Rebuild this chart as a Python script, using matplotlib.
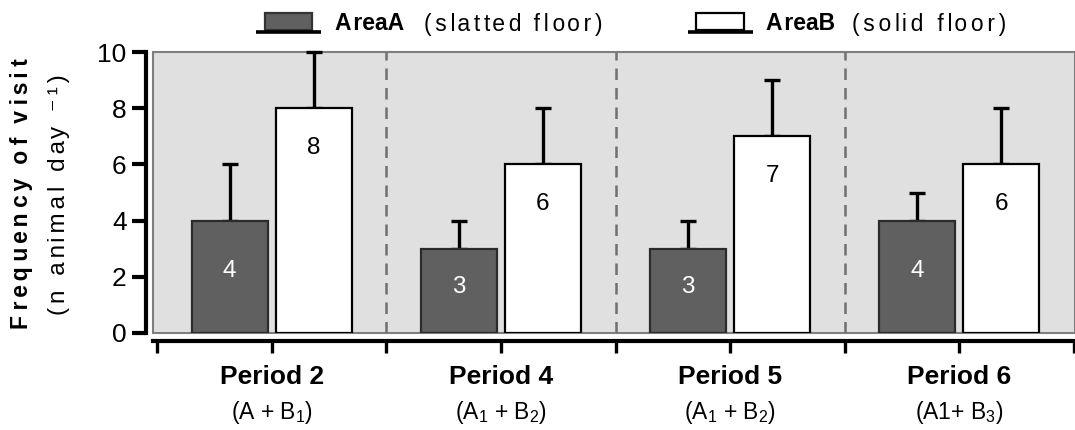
import matplotlib
matplotlib.use("Agg")
import matplotlib.pyplot as plt
from matplotlib.patches import Rectangle
from matplotlib.lines import Line2D
import numpy as np

plt.rcParams['font.family'] = ['Liberation Sans', 'DejaVu Sans']
plt.rcParams['mathtext.fontset'] = 'custom'
plt.rcParams['mathtext.rm'] = 'Liberation Sans'
plt.rcParams['mathtext.it'] = 'Liberation Sans:italic'
plt.rcParams['mathtext.bf'] = 'Liberation Sans:bold'

# ---------------- data ----------------
periods = ["Period 2", "Period 4", "Period 5", "Period 6"]
period_sub = [r"(A + $\mathregular{B_1}$)", r"($\mathregular{A_1}$ + $\mathregular{B_2}$)",
              r"($\mathregular{A_1}$ + $\mathregular{B_2}$)", r"(A1+ $\mathregular{B_3}$)"]
area_a = [4, 3, 3, 4]
area_a_err = [2, 1, 1, 1]
area_b = [8, 6, 7, 6]
area_b_err = [2, 2, 2, 2]
yticks = [0, 2, 4, 6, 8, 10]
legend_a_bold, legend_a_rest = "AreaA", "(slatted floor)"
legend_b_bold, legend_b_rest = "AreaB", "(solid floor)"
ylabel_1 = "Frequency of visit"
ylabel_2 = "(n animal day \u207b\u00b9)"

W, H, DPI = 1075, 430, 100
fig = plt.figure(figsize=(W / DPI, H / DPI), dpi=DPI)
renderer = fig.canvas.get_renderer()

def fx(px):
    return px / W

def fy(py):
    return 1 - py / H

def width_px(s, **kw):
    t = fig.text(0, 0, s, **kw)
    w = t.get_window_extent(renderer).width
    t.remove()
    return w

HAIR = '\u200a'

def spaced(s, extras):
    out = s[0]
    for ch, n in zip(s[1:], extras):
        out += HAIR * n + ch
    return out

def tracked(s, target, **kw):
    """Letter-spaced version of s (hair spaces between letters) about target px long."""
    gaps = len(s) - 1
    w0 = width_px(s, **kw)
    w1 = width_px(spaced(s, [1] * gaps), **kw)
    d = max((w1 - w0) / gaps, 0.1)
    k = int(round((target - w0) / d))
    k = max(k, 0)
    base, rem = divmod(k, gaps)
    extras = [base] * gaps
    if rem:
        idx = np.round(np.linspace(0, gaps - 1, rem)).astype(int)
        for i in idx:
            extras[i] += 1
    return spaced(s, extras)

# axes: gray box from x=153..1075, y=52 (10) .. 333 (0)
ax = fig.add_axes([fx(153), fy(333), fx(1075) - fx(153), fy(52) - fy(333)])
ax.set_facecolor('none')
ax.add_patch(Rectangle((0, 0), 1, 1, transform=ax.transAxes, facecolor='#e0e0e0',
                       edgecolor='#7f7f7f', lw=1.5, zorder=0, clip_on=False))

px_per_unit = (1074 - 157) / 4.0
ax.set_xlim(-0.5 - 4 / px_per_unit, 3.5 + 1 / px_per_unit)
ax.set_ylim(0, 10)

x = np.arange(len(periods))
bw = 0.332
off = 0.183
ax.bar(x - off, area_a, width=bw, color='#606060', edgecolor='#2b2b2b', lw=1.6, zorder=2)
ax.bar(x + off, area_b, width=bw, color='white', edgecolor='black', lw=1.6, zorder=2)
ekw = dict(fmt='none', ecolor='black', elinewidth=2.4, capsize=6, capthick=2.4,
           zorder=1.5, clip_on=False)
ax.errorbar(x - off, area_a, yerr=[np.zeros(len(x)), area_a_err], **ekw)
ax.errorbar(x + off, area_b, yerr=[np.zeros(len(x)), area_b_err], **ekw)

for xi, v in zip(x, area_a):
    ax.text(xi - off, v * 0.55, str(v), ha='center', va='center', color='white',
            fontsize=17.5, zorder=3)
for xi, v in zip(x, area_b):
    ax.text(xi + off, v - 1.4, str(v), ha='center', va='center', color='black',
            fontsize=17.5, zorder=3)

for b in [0.5, 1.5, 2.5]:
    ax.plot([b, b], [0, 10], color='#707070', lw=1.8, ls=(0, (4.6, 3.2)), zorder=1)

# spines
for s in ['top', 'right']:
    ax.spines[s].set_visible(False)
ax.spines['left'].set_position(('outward', 5))
ax.spines['left'].set_linewidth(3)
ax.spines['left'].set_bounds(0, 10)
ax.spines['bottom'].set_position(('outward', 5.4))
ax.spines['bottom'].set_linewidth(3)

ax.set_yticks(yticks)
ax.set_yticklabels([str(t) for t in yticks])
ax.tick_params(axis='y', length=10, width=3, labelsize=19, pad=4, direction='out')
ax.set_xticks(np.arange(-0.5, 3.51, 0.5))
ax.set_xticklabels([])
ax.tick_params(axis='x', length=8.6, width=2.4, direction='out')

trans = matplotlib.transforms.blended_transform_factory(ax.transData, fig.transFigure)
for xi, name, sub in zip(x, periods, period_sub):
    ax.text(xi, fy(384), name, transform=trans, ha='center', va='baseline',
            fontsize=19, fontweight='bold')
    ax.text(xi, fy(419), sub, transform=trans, ha='center', va='baseline', fontsize=16.5)

# y label (letter-spaced as in the original)
yl1_kw = dict(fontsize=16.5, fontweight='bold')
yl2_kw = dict(fontsize=17.5)
fig.text(fx(28.5), fy(194), tracked(ylabel_1, 270, **yl1_kw), rotation=90,
         rotation_mode='anchor', ha='center', va='baseline', **yl1_kw)
fig.text(fx(65), fy(195), tracked(ylabel_2, 240, **yl2_kw), rotation=90,
         rotation_mode='anchor', ha='center', va='baseline', **yl2_kw)

# legend
leg_bold_kw = dict(fontsize=16.5, fontweight='bold')
leg_kw = dict(fontsize=16.5)

def legend_item(x0, x1, bx0, bx1, color, ec, tx, bold, rest, rest_x, rest_w):
    fig.patches.append(Rectangle((fx(bx0), fy(30)), fx(bx1) - fx(bx0), fy(13.5) - fy(30),
                                 transform=fig.transFigure, facecolor=color, edgecolor=ec,
                                 lw=1.6))
    fig.lines.append(Line2D([fx(x0), fx(x1)], [fy(31.5), fy(31.5)], transform=fig.transFigure,
                            color='black', lw=2.6, solid_capstyle='butt'))
    fig.text(fx(tx), fy(30.5), tracked(bold, 70, **leg_bold_kw), va='baseline', **leg_bold_kw)
    fig.text(fx(rest_x), fy(30.5), tracked(rest, rest_w, **leg_kw), va='baseline', **leg_kw)

legend_item(256, 321, 265, 312, '#606060', '#333333', 335, legend_a_bold, legend_a_rest,
            424, 178)
legend_item(688, 753, 696, 744, 'white', 'black', 766, legend_b_bold, legend_b_rest,
            852, 154)

fig.savefig("out.png", dpi=DPI)
